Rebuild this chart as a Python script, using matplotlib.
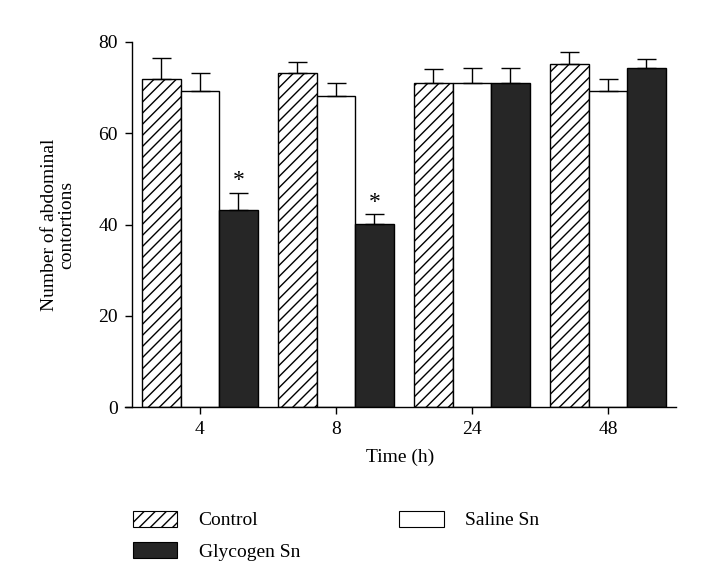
import matplotlib
matplotlib.use("Agg")
import matplotlib.pyplot as plt
import numpy as np
from matplotlib.patches import Patch

plt.rcParams['font.family'] = ['Liberation Serif', 'DejaVu Serif']
plt.rcParams['hatch.linewidth'] = 1.0

time_labels = ["4", "8", "24", "48"]
control = [72.0, 73.3, 71.1, 75.1]
control_err = [4.4, 2.3, 2.9, 2.6]
saline = [69.3, 68.2, 71.1, 69.2]
saline_err = [3.8, 2.9, 3.2, 2.8]
glycogen = [43.2, 40.1, 71.1, 74.2]
glycogen_err = [3.8, 2.2, 3.2, 2.1]
significant = [True, True, False, False]

W, H = 722, 587
fig = plt.figure(figsize=(W / 100, H / 100), dpi=100)
ax = fig.add_axes([125 / W, 1 - 407 / H, (676 - 125) / W, (407 - 42) / H])

x = np.arange(len(time_labels))
bw = 0.283
dark = '#262626'
ek = dict(elinewidth=1.0, capthick=1.0, ecolor='black')

ax.bar(x - bw, control, bw, facecolor='white', edgecolor='black', linewidth=1.0, hatch='///')
ax.errorbar(x - bw, control, yerr=[np.zeros(4), control_err], fmt='none', capsize=9.5 * 0.72, **ek)
ax.bar(x, saline, bw, facecolor='white', edgecolor='black', linewidth=1.0)
ax.errorbar(x, saline, yerr=[np.zeros(4), saline_err], fmt='none', capsize=9.5 * 0.72, **ek)
ax.bar(x + bw, glycogen, bw, facecolor=dark, edgecolor='black', linewidth=1.0)
ax.errorbar(x + bw, glycogen, yerr=[np.zeros(4), glycogen_err], fmt='none', capsize=9.5 * 0.72, **ek)

for i, sig in enumerate(significant):
    if sig:
        ax.text(x[i] + bw, glycogen[i] + glycogen_err[i] + 2.6, '*', ha='center', va='center', fontsize=17)

ax.set_xlim(-0.551, 3.5)
ax.set_ylim(0, 80)
ax.set_yticks([0, 20, 40, 60, 80])
ax.set_xticks(x)
ax.set_xticklabels(time_labels)
for s in ['top', 'right']:
    ax.spines[s].set_visible(False)
ax.spines['left'].set_position(('data', -0.5))
ax.spines['left'].set_linewidth(1.0)
ax.spines['bottom'].set_linewidth(1.0)
ax.tick_params(axis='both', labelsize=14, length=5, width=1.0, direction='out')
ax.tick_params(axis='y', pad=5)
ax.tick_params(axis='x', pad=5)

ax.set_xlabel('Time (h)', fontsize=14, labelpad=8)
fig.text(58 / W, 1 - 225 / H, 'Number of abdominal\ncontortions', rotation=90,
         ha='center', va='center', fontsize=14, linespacing=1.0)

handles = [Patch(facecolor='white', edgecolor='black', hatch='///', linewidth=0.8, label='Control'),
           Patch(facecolor=dark, edgecolor='black', linewidth=0.8, label='Glycogen Sn'),
           Patch(facecolor='white', edgecolor='black', linewidth=0.8, label='Saline Sn')]
fig.legend(handles=handles, ncol=2, loc='upper left', bbox_to_anchor=(115 / W, 1 - 493 / H),
           frameon=False, fontsize=14, handlelength=2.3, handleheight=0.9,
           handletextpad=1.1, columnspacing=5.1, labelspacing=0.65)

fig.savefig('out.png', dpi=100)
